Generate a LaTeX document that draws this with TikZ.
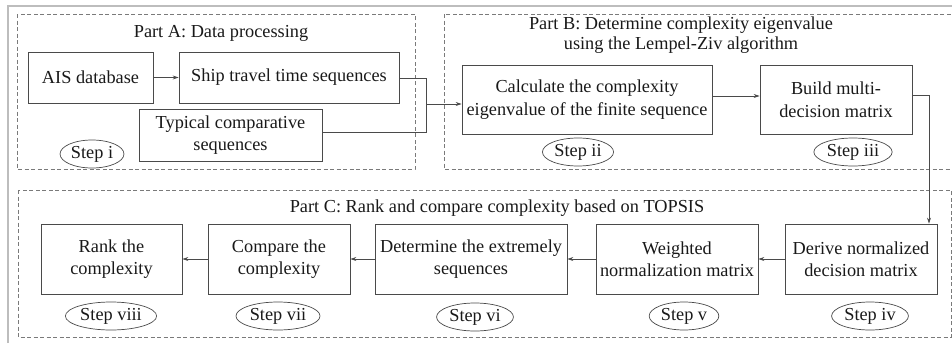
\documentclass[tikz,border=0pt]{standalone}
\usepackage{fontspec}
\setmainfont{Liberation Serif}
\usetikzlibrary{arrows.meta,shapes.geometric,calc}
\definecolor{boxline}{HTML}{4A4A4A}
\definecolor{dashline}{HTML}{7A7A7A}
\definecolor{frameline}{HTML}{BDBDBD}
\begin{document}
\begin{tikzpicture}[x=1pt,y=-1pt,
  every node/.style={font=\fontsize{18.3}{22.5}\selectfont, text=black!90},
  stepbox/.style={draw=boxline, line width=0.8pt, align=center, inner sep=0pt},
  steptag/.style={draw=boxline, line width=0.7pt, ellipse, inner xsep=1.5pt, inner ysep=0pt, minimum height=28pt},
  part/.style={draw=dashline, line width=0.8pt, dash pattern=on 4pt off 2.5pt},
  title/.style={align=center, font=\fontsize{18.3}{20}\selectfont},
  link/.style={draw=boxline, line width=0.7pt},
  arr/.style={link, -{Stealth[length=6pt,width=4pt]}}
]
\useasboundingbox (0,0) rectangle (952,343);

% outer frame
\draw[frameline, line width=1.6pt] (8,343) -- (8,6) -- (952,6);

% the three part frames
\draw[part] (17,14) rectangle (415,169);
\draw[part] (444,14) rectangle (955,169);
\draw[part] (18,190) rectangle (951,337);

% part titles
\node[title] (ta) at (221,33) {Part A: Data processing};
\node[title] (tb) at (681,35) {Part B: Determine complexity eigenvalue\\using the Lempel-Ziv algorithm};
\node[title] (tc) at (497,208) {Part C: Rank and compare complexity based on TOPSIS};

% Part A
\node[stepbox, minimum width=125pt, minimum height=51pt] (ais) at (90.5,77.5) {AIS database};
\node[stepbox, minimum width=220pt, minimum height=51pt] (ship) at (289,77.5) {Ship travel time sequences};
\node[stepbox, minimum width=183pt, minimum height=52pt] (typ) at (230.5,135) {Typical comparative\\sequences};
\node[steptag] (s1) at (92,154) {Step i};

% Part B
\node[stepbox, minimum width=250pt, minimum height=69pt] (calc) at (587,99.5) {Calculate the complexity\\eigenvalue of the finite sequence};
\node[stepbox, minimum width=152pt, minimum height=69pt] (build) at (836,99.5) {Build multi-\\decision matrix};
\node[steptag] (s2) at (578,152) {Step ii};
\node[steptag] (s3) at (853,152) {Step iii};

% Part C
\node[stepbox, minimum width=152pt, minimum height=70pt] (derive) at (861,259) {Derive normalized\\decision matrix};
\node[stepbox, minimum width=162pt, minimum height=70pt] (weight) at (677,259) {Weighted\\normalization matrix};
\node[stepbox, minimum width=192pt, minimum height=70pt] (extreme) at (471,259) {Determine the extremely\\sequences};
\node[stepbox, minimum width=142pt, minimum height=70pt] (compare) at (279,259) {Compare the\\complexity};
\node[stepbox, minimum width=141pt, minimum height=70pt] (rank) at (111.5,259) {Rank the\\complexity};
\node[steptag] (s4) at (870,316) {Step iv};
\node[steptag] (s5) at (684,316) {Step v};
\node[steptag] (s6) at (475,317) {Step vi};
\node[steptag] (s7) at (278,316) {Step vii};
\node[steptag] (s8) at (111,316) {Step viii};

% connectors
\coordinate (join) at (426,104);
\coordinate (drop) at (929,95);
\draw[arr] (ais) -- (ship);
\draw[link] ([yshift=-0.5pt]ship.east) -| (join);
\draw[link] ([yshift=3pt]typ.east) -| (join);
\draw[arr] (join) -- (calc.west |- join);
\draw[arr] ([yshift=3.5pt]calc.east) -- ([yshift=3.5pt]build.west);
\draw[link] (build.east |- drop) -- (drop);
\draw[arr] (drop) -- (drop |- derive.north);
\draw[arr] (derive) -- (weight);
\draw[arr] (weight) -- (extreme);
\draw[arr] (extreme) -- (compare);
\draw[arr] (compare) -- (rank);
\end{tikzpicture}
\end{document}
